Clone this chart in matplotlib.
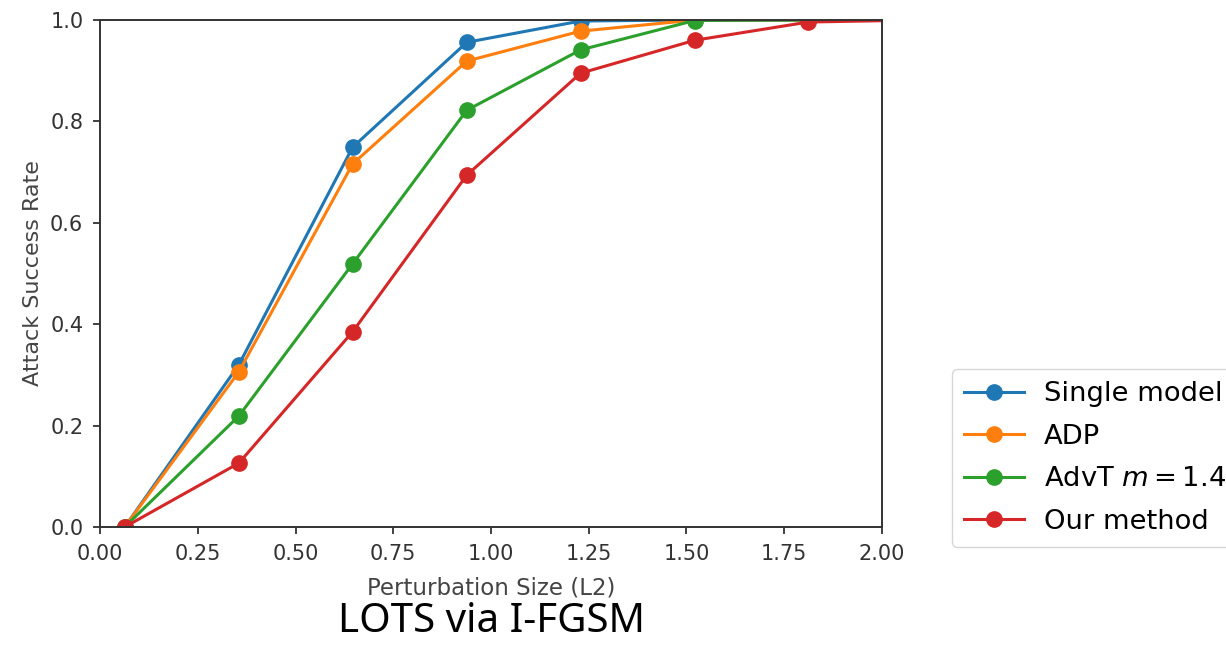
import matplotlib
matplotlib.use("Agg")
import matplotlib.pyplot as plt

x_vals = [0.063, 0.355, 0.646, 0.938, 1.229, 1.521, 1.812, 2.104]
single_model = [0.0, 0.320, 0.749, 0.956, 0.998, 1.0, 1.0, 1.0]
adp = [0.0, 0.306, 0.716, 0.919, 0.978, 1.0, 1.0, 1.0]
advt = [0.0, 0.219, 0.519, 0.822, 0.941, 0.999, 1.0, 1.0]
our_method = [0.0, 0.126, 0.385, 0.694, 0.895, 0.960, 0.996, 1.0]

series_labels = ["Single model", "ADP", "AdvT $m = 1.4$", "Our method"]
colors = ["#1f77b4", "#ff7f0e", "#2ca02c", "#d62728"]
x_ticks = [0.00, 0.25, 0.50, 0.75, 1.00, 1.25, 1.50, 1.75, 2.00]
y_ticks = [0.0, 0.2, 0.4, 0.6, 0.8, 1.0]

plt.rcParams['font.family'] = ['DejaVu Sans']
fig = plt.figure(figsize=(12.26, 6.45), dpi=100)
ax = fig.add_axes([0.0816, 0.1829, 0.6378, 0.7861])

for ys, lab, c in zip([single_model, adp, advt, our_method], series_labels, colors):
    ax.plot(x_vals, ys, color=c, marker="o", lw=2.2, ms=11, label=lab)

ax.set_xlim(0, 2)
ax.set_ylim(0, 1)
ax.set_xticks(x_ticks)
ax.set_xticklabels([f"{t:.2f}" for t in x_ticks])
ax.set_yticks(y_ticks)
ax.set_yticklabels([f"{t:.1f}" for t in y_ticks])
ax.tick_params(labelsize=15, length=5, width=1.3, pad=7, colors="#333333", labelcolor="#333333")
for s in ax.spines.values():
    s.set_linewidth(1.4)
    s.set_color("#333333")
ax.set_xlabel("Perturbation Size (L2)", fontsize=16.5, color="#444444", labelpad=9,
              family=["DejaVu Sans"])
ax.set_ylabel("Attack Success Rate", fontsize=16, color="#444444", labelpad=5,
              family=["DejaVu Sans"])

leg = fig.legend(loc="lower left", bbox_to_anchor=(0.7765, 0.152), fontsize=19.7,
                 frameon=True, handlelength=2.2, labelspacing=0.6, handletextpad=0.7,
                 borderpad=0.45, borderaxespad=0)
leg.get_frame().set_edgecolor("#cccccc")

fig.text(0.4005, 0.004, "LOTS via I-FGSM", fontsize=29, ha="center", va="bottom",
         family=["Noto Sans", "DejaVu Sans"], color="black")

fig.savefig("out.png", dpi=100)
